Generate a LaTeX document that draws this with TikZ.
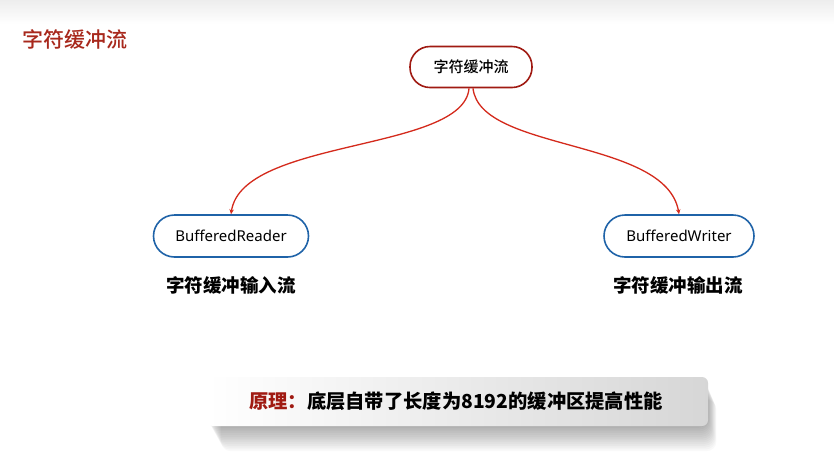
\documentclass[tikz,border=0pt]{standalone}
\usepackage{fontspec}
\newfontfamily\cjk{Noto Sans CJK SC}[BoldFont={Noto Sans CJK SC Black}]
\newfontfamily\cjkmid{Noto Sans CJK SC Medium}
\setsansfont{Noto Sans}
\usetikzlibrary{arrows.meta}
\definecolor{titlered}{HTML}{A8281C}
\definecolor{nodered}{HTML}{A01A12}
\definecolor{linered}{HTML}{D42A1C}
\definecolor{nodeblue}{HTML}{1F63A8}

\begin{document}
\begin{tikzpicture}[x=1pt,y=-1pt,
    rootbox/.style={draw=nodered,line width=1.6pt,rounded corners=20pt,fill=white,
      minimum width=122pt,minimum height=41pt,font=\cjkmid\fontsize{15}{17}\selectfont},
    classbox/.style={draw=nodeblue,line width=1.6pt,rounded corners=21pt,fill=white,
      minimum height=42pt,font=\sffamily\fontsize{15}{17}\selectfont},
    kindlabel/.style={font=\cjk\bfseries\fontsize{18.5}{20}\selectfont},
    link/.style={draw=linered,line width=1.3pt,-{Stealth[length=5pt,width=4.5pt]}}]
  \useasboundingbox (0,0) rectangle (834,459);
  \fill[white] (0,0) rectangle (834,459);
  \shade[top color=black!7,bottom color=white] (0,0) rectangle (834,24);

  \node[text=titlered,font=\cjkmid\fontsize{21}{23}\selectfont] (title) at (75,39) {字符缓冲流};

  \node[rootbox] (root) at (471,67) {字符缓冲流};
  \node[classbox,minimum width=155pt] (reader) at (231,236) {BufferedReader};
  \node[classbox,minimum width=150pt] (writer) at (679,236) {BufferedWriter};

  \node[kindlabel] (inlabel) at (231,285) {字符缓冲输入流};
  \node[kindlabel] (outlabel) at (678,285) {字符缓冲输出流};

  \draw[link] ([xshift=-2pt]root.south) .. controls (464,152) and (242,138) .. (reader.north);
  \draw[link] ([xshift=2pt]root.south) .. controls (480,152) and (666,138) .. (writer.north);

  % soft shadow under the note
  \foreach \i in {1,...,14} {
      \fill[black,opacity=0.022,rounded corners=10pt]
        (207+\i*1.0,380+\i*1.4) rectangle (708+\i*0.6,426+\i*1.8);
    }
  \shade[left color=white,right color=black!16,rounded corners=6pt]
    (207,377) rectangle (708,426);
  \node[font=\cjk\bfseries\fontsize{19.3}{21}\selectfont] (note) at (456,401)
    {\textcolor{nodered}{原理：}底层自带了长度为8192的缓冲区提高性能};
\end{tikzpicture}
\end{document}
